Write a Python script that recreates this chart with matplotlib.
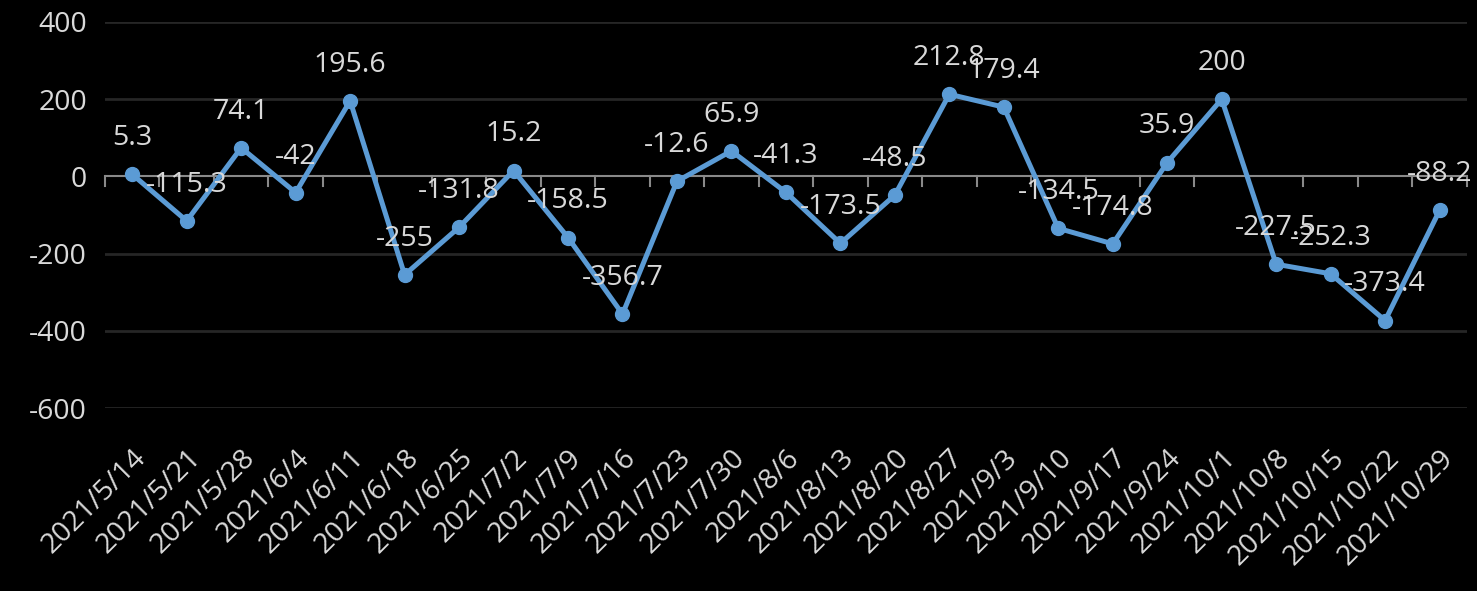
import matplotlib.pyplot as plt
import numpy as np

# chart data
dates = ["2021/5/14", "2021/5/21", "2021/5/28", "2021/6/4", "2021/6/11",
         "2021/6/18", "2021/6/25", "2021/7/2", "2021/7/9", "2021/7/16",
         "2021/7/23", "2021/7/30", "2021/8/6", "2021/8/13", "2021/8/20",
         "2021/8/27", "2021/9/3", "2021/9/10", "2021/9/17", "2021/9/24",
         "2021/10/1", "2021/10/8", "2021/10/15", "2021/10/22", "2021/10/29"]
values = [5.3, -115.3, 74.1, -42, 195.6,
          -255, -131.8, 15.2, -158.5, -356.7,
          -12.6, 65.9, -41.3, -173.5, -48.5,
          212.8, 179.4, -134.5, -174.8, 35.9,
          200, -227.5, -252.3, -373.4, -88.2]
y_ticks = [-600, -400, -200, 0, 200, 400]

plt.rcParams['font.family'] = ['Open Sans', 'DejaVu Sans']
text_color = '#d9d9d9'
line_color = '#5b9bd5'
fs = 20.5

fig = plt.figure(figsize=(14.77, 5.91), dpi=100, facecolor='black')
ax = fig.add_axes([0.0711, 0.3096, 0.922, 0.6532], facecolor='black')

x = np.arange(len(dates))
ax.set_xlim(-0.5, len(dates) - 0.5)
ax.set_ylim(-600, 400)

# gridlines (zero line drawn separately)
for yv in y_ticks:
    if yv != 0:
        ax.axhline(yv, color='#262626', lw=2, zorder=1)
ax.axhline(0, color='#898989', lw=1.5, zorder=2)
for b in np.arange(-0.5, len(dates), 1.0):
    ax.plot([b, b], [0, -25], color='#898989', lw=1.5, zorder=2, clip_on=False)

ax.plot(x, values, color=line_color, lw=3.6, marker='o', markersize=10,
        zorder=3, clip_on=False)

for xi, v in zip(x, values):
    ax.annotate(f"{v:g}", (xi, v), xytext=(0, 26), textcoords='offset points',
                ha='center', va='center', color=text_color, fontsize=fs, zorder=4)

for s in ax.spines.values():
    s.set_visible(False)

ax.set_yticks(y_ticks)
ax.set_yticklabels([str(t) for t in y_ticks])
ax.tick_params(axis='y', length=0, pad=13, labelsize=fs, labelcolor=text_color)

ax.set_xticks(x)
ax.set_xticklabels(dates, rotation=45, ha='right', va='top', rotation_mode='anchor')
ax.tick_params(axis='x', length=0, pad=26, labelsize=fs, labelcolor=text_color)

fig.savefig('out.png', dpi=100, facecolor='black')
